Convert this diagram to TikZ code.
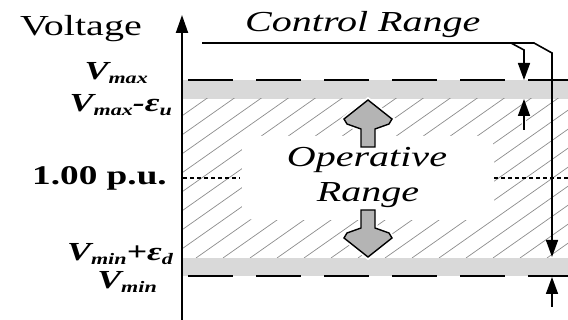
\documentclass[tikz,border=0pt]{standalone}
\usepackage{fontspec}
\setmainfont{Liberation Serif}[ItalicFont={Liberation Serif Italic},BoldFont={Liberation Serif Bold},BoldItalicFont={Liberation Serif Bold Italic}]
\usepackage{graphicx}
\usetikzlibrary{arrows.meta}
\newcommand{\sx}[1]{\scalebox{1.38}[1]{#1}}
\newcommand{\sub}[1]{\raisebox{-3.5pt}{\fontsize{16}{16}\selectfont #1}}
\definecolor{bandgray}{HTML}{D9D9D9}
\definecolor{hatchgray}{HTML}{8C8C8C}
\definecolor{blockgray}{HTML}{B4B4B4}
\begin{document}
\begin{tikzpicture}[x=1pt,y=-1pt,
  lbl/.style={inner sep=0pt, anchor=base east, font=\fontsize{26}{28}\selectfont\bfseries\itshape},
  bigtxt/.style={inner sep=0pt, font=\fontsize{29}{32}\selectfont},
  band/.style={fill=bandgray, draw=none},
  limitline/.style={line width=2.4pt, dash pattern=on 45pt off 23pt},
  hatch/.style={draw=hatchgray, line width=0.7pt},
  conn/.style={line width=1.6pt, -{Triangle[width=12pt,length=17pt]}},
  refline/.style={line width=1.1pt, dash pattern=on 4pt off 3pt},
  blockarrow/.style={fill=blockgray, draw=black, line width=1.4pt, line join=miter},
  halo/.style={draw=white, line width=5pt, line join=miter}
]
\useasboundingbox (0,0) rectangle (568,320);
% bands
\fill[band] (183,80) rectangle (568,99);
\fill[band] (183,258) rectangle (568,276);
% hatching
\begin{scope}
  \clip (183,99) rectangle (568,258);
  \foreach \i in {-12,...,16} {
    \draw[hatch] ({196+27*\i},258) -- ++(324,-228);
  }
\end{scope}
\fill[white, rounded corners=12pt] (242,136) rectangle (494,220);
% limit dashed lines
\draw[limitline] (188,80) -- (568,80);
\draw[limitline] (188,276) -- (568,276);
% 1.00 p.u. lines
\draw[refline] (183,178) -- (240,178);
\draw[refline] (494,178) -- (568,178);
% axis
\coordinate (axbot) at (182,320);
\coordinate (axtop) at (182,15);
\draw[line width=2pt, -{Triangle[width=12pt,length=18pt]}] (axbot) -- (axtop);
% block arrows
\path[halo] (368,100) -- (392,119) -- (389,124) -- (375,129) -- (375,147) -- (361,147) -- (361,129) -- (347,124) -- (344,119) -- cycle;
\path[blockarrow] (368,100) -- (392,119) -- (389,124) -- (375,129) -- (375,147) -- (361,147) -- (361,129) -- (347,124) -- (344,119) -- cycle;
\path[halo] (368,257) -- (392,238) -- (389,233) -- (375,228) -- (375,210) -- (361,210) -- (361,228) -- (347,233) -- (344,238) -- cycle;
\path[blockarrow] (368,257) -- (392,238) -- (389,233) -- (375,228) -- (375,210) -- (361,210) -- (361,228) -- (347,233) -- (344,238) -- cycle;
% control range connectors
\coordinate (crstart) at (202,43);
\coordinate (crbend) at (534,43);
\coordinate (crdiag) at (552,53);
\coordinate (crend) at (552,257);
\coordinate (brstart) at (511,43);
\coordinate (brdiag) at (524,50);
\coordinate (brend) at (524,80);
\coordinate (eutail) at (524,130);
\coordinate (euhead) at (524,99);
\coordinate (edtail) at (552,307);
\coordinate (edhead) at (552,277);
\draw[conn] (crstart) -- (crbend) -- (crdiag) -- (crend);
\draw[conn] (brstart) -- (brdiag) -- (brend);
\draw[white, line width=4pt] (eutail) -- (524,112);
\draw[conn] (eutail) -- (euhead);
\draw[conn] (edtail) -- (edhead);
% texts
\node[bigtxt, anchor=base west] (volt) at (20,36) {\sx{Voltage}};
\node[bigtxt, anchor=base west] (ctrl) at (245,32) {\sx{\itshape Control Range}};
\node[bigtxt, anchor=base] (oper) at (367,167) {\sx{\itshape Operative}};
\node[bigtxt, anchor=base] (rang) at (368,202) {\sx{\itshape Range}};
\node[lbl] (vmax) at (148,80) {\sx{V\sub{max}}};
\node[lbl] (vmaxe) at (172,112) {\sx{V\sub{max}-ε\sub{u}}};
\node[inner sep=0pt, anchor=base east, font=\fontsize{27}{29}\selectfont\bfseries] (pu) at (167,185) {\sx{1.00 p.u.}};
\node[lbl] (vmine) at (173,261) {\sx{V\sub{min}+ε\sub{d}}};
\node[lbl] (vmin) at (157,289) {\sx{V\sub{min}}};
\end{tikzpicture}
\end{document}
